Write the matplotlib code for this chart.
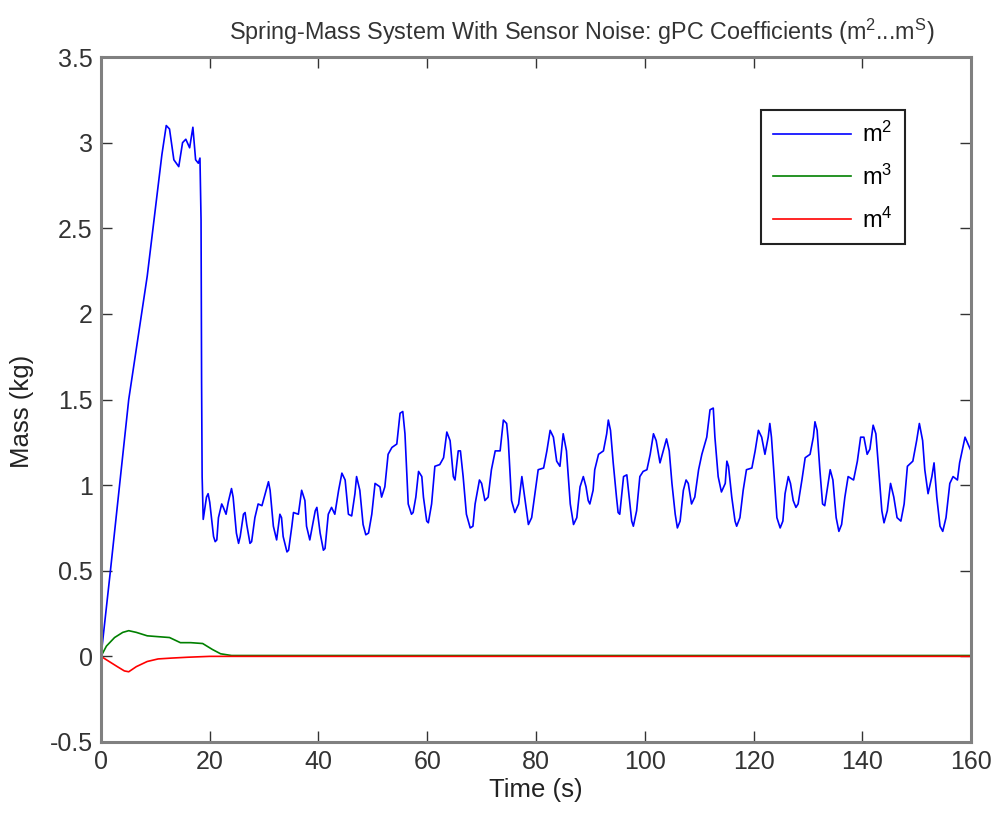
import numpy as np
import matplotlib.pyplot as plt

# Blue series (m^2)
t_m2 = [0, 1.7, 5.1, 8.5, 11.2, 12.0, 12.6, 13.4, 14.3, 15.0, 15.6, 16.3, 16.9, 17.4, 17.9, 18.2,
        18.4, 18.5, 18.6, 18.8,
        19.4, 19.7, 20.0, 20.7, 21.0, 21.3, 21.6, 22.2, 22.5, 23.0, 23.4, 24.0, 24.3, 24.9, 25.3, 25.6,
        26.2, 26.5, 26.8, 27.4, 27.7, 28.3, 28.9, 29.6, 30.2, 30.8, 31.1, 31.7, 32.3, 32.9, 33.2, 33.5,
        34.2, 34.5, 35.1, 35.4, 36.3, 36.9, 37.5, 37.8, 38.4, 39.4, 39.7, 40.3, 40.9, 41.2, 41.8, 42.4,
        43.0, 43.7, 44.3, 44.9, 45.5, 46.1, 46.7, 47.0, 47.6, 48.2, 48.7, 49.2, 49.8, 50.4, 51.3, 51.6,
        52.2, 52.8, 53.5, 54.4, 55.0, 55.5, 55.9, 56.2, 56.5, 57.1, 57.4, 57.9, 58.4, 59.0, 59.3, 59.9,
        60.2, 60.8, 61.4, 62.3, 63.0, 63.6, 64.2, 64.8, 65.1, 65.7, 66.1, 66.6, 67.2, 67.9, 68.4, 68.8,
        69.6, 70.0, 70.6, 71.2, 71.8, 72.5, 73.4, 74.0, 74.6, 74.9, 75.5, 76.1, 76.8, 77.4, 78.0, 78.6,
        79.2, 79.8, 80.4, 81.4, 82.0, 82.6, 83.2, 83.8, 84.4, 85.0, 85.6, 86.3, 86.9, 87.5, 88.1, 88.7,
        89.2, 89.6, 89.9, 90.5, 90.8, 91.5, 92.4, 93.0, 93.3, 93.7, 94.2, 94.8, 95.1, 95.4, 96.1, 96.7,
        97.0, 97.6, 97.9, 98.5, 99.1, 99.7, 100.4, 101.0, 101.6, 102.1, 102.8, 103.4, 104.0, 104.5,
        105.0, 105.6, 106.0, 106.5, 107.1, 107.6, 108.0, 108.6, 109.2, 109.9, 110.5, 111.4, 112.0,
        112.6, 112.9, 113.5, 114.1, 114.8, 115.1, 115.4, 116.0, 116.6, 116.9, 117.5, 118.1, 118.7,
        119.7, 120.3, 120.9, 121.5, 122.1, 122.7, 123.0, 123.3, 123.8, 124.3, 124.9, 125.4, 125.8,
        126.4, 126.8, 127.3, 127.8, 128.2, 128.9, 129.5, 130.4, 131.0, 131.3, 131.7, 132.2, 132.7,
        133.1, 133.8, 134.1, 134.6, 135.2, 135.7, 136.2, 136.8, 137.4, 138.4, 139.1, 139.7, 140.3,
        140.9, 141.4, 142.0, 142.5, 142.9, 143.6, 144.0, 144.6, 145.2, 145.8, 146.4, 147.1, 147.7,
        148.3, 149.3, 150.0, 150.5, 151.1, 151.5, 152.1, 152.8, 153.2, 153.7, 154.3, 154.8, 155.4,
        156.1, 156.7, 157.5, 157.9, 158.9, 160.0]
m2 = [0.0, 0.49, 1.5, 2.22, 2.93, 3.1, 3.08, 2.9, 2.86, 3.0, 3.02, 2.97, 3.09, 2.9, 2.88, 2.91,
      2.55, 1.6, 1.05, 0.80,
      0.93, 0.95, 0.90, 0.70, 0.67, 0.68, 0.81, 0.89, 0.87, 0.83, 0.90, 0.98, 0.93, 0.72, 0.66, 0.70,
      0.83, 0.84, 0.77, 0.66, 0.67, 0.81, 0.89, 0.88, 0.95, 1.02, 0.97, 0.76, 0.68, 0.83, 0.81, 0.70,
      0.61, 0.62, 0.76, 0.84, 0.83, 0.97, 0.91, 0.76, 0.68, 0.85, 0.87, 0.72, 0.62, 0.63, 0.83, 0.87,
      0.83, 0.97, 1.07, 1.03, 0.83, 0.82, 0.95, 1.05, 0.97, 0.77, 0.71, 0.72, 0.83, 1.01, 0.99, 0.93,
      0.99, 1.18, 1.22, 1.24, 1.42, 1.43, 1.30, 1.09, 0.89, 0.83, 0.84, 0.93, 1.08, 1.05, 0.93, 0.79,
      0.78, 0.89, 1.11, 1.12, 1.16, 1.31, 1.26, 1.05, 1.03, 1.20, 1.20, 1.05, 0.83, 0.75, 0.76, 0.89,
      1.03, 1.01, 0.91, 0.93, 1.09, 1.20, 1.20, 1.38, 1.36, 1.26, 0.91, 0.84, 0.89, 1.05, 0.91, 0.77,
      0.81, 0.95, 1.09, 1.10, 1.20, 1.32, 1.28, 1.14, 1.11, 1.30, 1.20, 0.89, 0.77, 0.81, 0.99, 1.05,
      0.99, 0.91, 0.89, 0.97, 1.09, 1.18, 1.20, 1.30, 1.38, 1.32, 1.13, 0.93, 0.84, 0.83, 1.05, 1.06,
      0.97, 0.79, 0.76, 0.85, 1.05, 1.08, 1.09, 1.18, 1.30, 1.26, 1.13, 1.20, 1.27, 1.20,
      1.01, 0.83, 0.75, 0.79, 0.97, 1.03, 1.01, 0.89, 0.93, 1.09, 1.18, 1.28, 1.44,
      1.45, 1.28, 1.05, 0.96, 1.01, 1.14, 1.11, 0.93, 0.79, 0.76, 0.81, 0.97, 1.09,
      1.10, 1.20, 1.32, 1.28, 1.18, 1.28, 1.36, 1.28, 1.05, 0.81, 0.75, 0.79, 0.95,
      1.05, 1.01, 0.91, 0.87, 0.89, 1.03, 1.16, 1.18, 1.28, 1.37, 1.32, 1.09, 0.89,
      0.88, 1.03, 1.09, 1.03, 0.81, 0.73, 0.77, 0.93, 1.05, 1.03, 1.14, 1.28, 1.28,
      1.18, 1.21, 1.35, 1.30, 1.14, 0.85, 0.78, 0.85, 1.01, 0.93, 0.81, 0.79, 0.89,
      1.11, 1.14, 1.26, 1.36, 1.26, 1.09, 0.95, 1.05, 1.13, 0.93, 0.76, 0.73, 0.81,
      1.01, 1.05, 1.03, 1.13, 1.28, 1.20]

# Green series (m^3)
t_m3 = [0, 1.0, 2.5, 4.0, 5.1, 6.5, 8.5, 10.5, 12.6, 14.6, 16.5, 18.7, 20.5, 22.0, 24.0, 160.0]
m3 = [0.0, 0.06, 0.11, 0.14, 0.15, 0.14, 0.12, 0.115, 0.11, 0.08, 0.08, 0.075, 0.04, 0.015, 0.005, 0.005]

# Red series (m^4)
t_m4 = [0, 1.5, 3.0, 4.3, 5.1, 6.5, 8.5, 10.5, 13.0, 16.0, 20.0, 160.0]
m4 = [0.0, -0.03, -0.06, -0.085, -0.09, -0.06, -0.03, -0.015, -0.01, -0.005, 0.0, 0.0]

labels = ['m$^2$', 'm$^3$', 'm$^4$']

plt.rc('font', family='Liberation Sans')
plt.rc('mathtext', fontset='custom', rm='Liberation Sans', it='Liberation Sans')

fig = plt.figure(figsize=(9.95, 8.15), dpi=100)
ax = fig.add_axes([0.1015, 0.0896, 0.8744, 0.8404])

ax.plot(t_m2, m2, color='#0000ff', lw=1.2, label=labels[0])
ax.plot(t_m3, m3, color='#008000', lw=1.2, label=labels[1])
ax.plot(t_m4, m4, color='#ff0000', lw=1.2, label=labels[2])

ax.set_xlim(0, 160)
ax.set_ylim(-0.5, 3.5)
ax.set_xticks(np.arange(0, 161, 20))
ax.set_yticks(np.arange(-0.5, 3.51, 0.5))
ax.set_yticklabels(['-0.5', '0', '0.5', '1', '1.5', '2', '2.5', '3', '3.5'])
ax.tick_params(direction='in', length=8, width=1, labelsize=18, top=True, right=True,
               colors='#333333', pad=6)
for sp in ax.spines.values():
    sp.set_color('#808080')
    sp.set_linewidth(2.2)

ax.set_xlabel('Time (s)', fontsize=18.5, labelpad=3, color='#222222')
ax.set_ylabel('Mass (kg)', fontsize=18.5, color='#222222')
ax.yaxis.set_label_coords(-0.077, 0.483)
ax.set_title('Spring-Mass System With Sensor Noise: gPC Coefficients (m$^2$...m$^S$)',
             fontsize=16.8, pad=12, color='#333333', x=0.553)

leg = ax.legend(loc='upper right', bbox_to_anchor=(0.924, 0.923), borderaxespad=0,
                fontsize=17, fancybox=False, framealpha=1, edgecolor='#222222',
                handlelength=3.3, borderpad=0.5, labelspacing=0.75, handletextpad=0.5)
leg.get_frame().set_linewidth(1.5)

fig.savefig('out.png', dpi=100)
